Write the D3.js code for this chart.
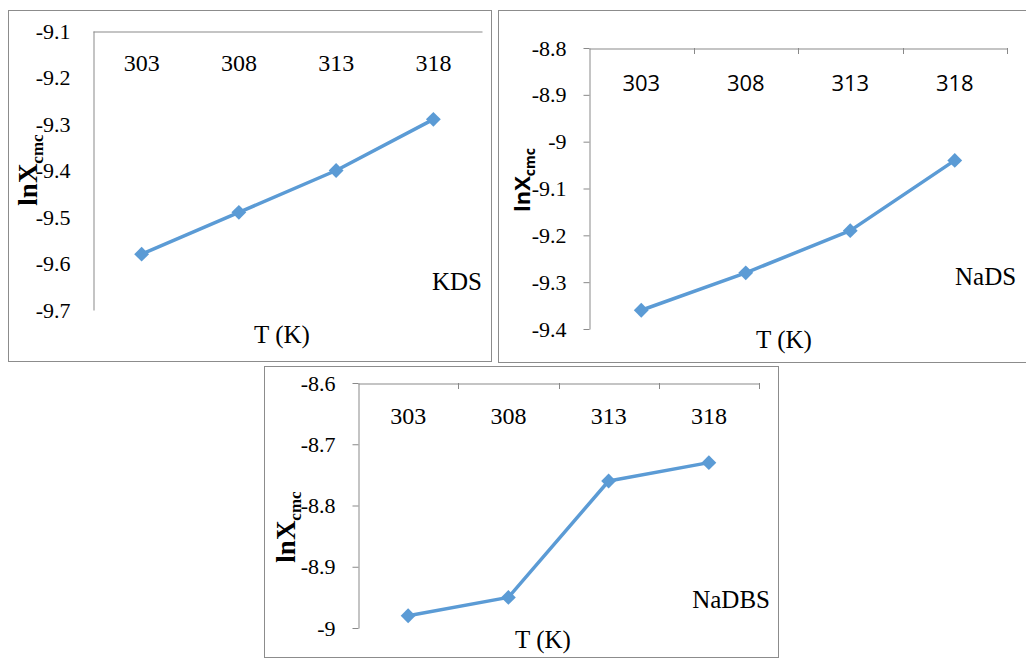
<!DOCTYPE html>
<html>
<head>
<meta charset="utf-8">
<script src="https://cdn.jsdelivr.net/npm/d3@7"></script>
</head>
<body style="margin:0;background:#fff">
<svg id="fig" width="1026" height="661" style="display:block"></svg>
<script>
// ---- data ----
const categories = ["303", "308", "313", "318"];
const kdsValues = [-9.58, -9.49, -9.40, -9.29];
const nadsValues = [-9.36, -9.28, -9.19, -9.04];
const nadbsValues = [-8.98, -8.95, -8.76, -8.73];
const kdsTicks = [-9.1, -9.2, -9.3, -9.4, -9.5, -9.6, -9.7];
const nadsTicks = [-8.8, -8.9, -9.0, -9.1, -9.2, -9.3, -9.4];
const nadbsTicks = [-8.6, -8.7, -8.8, -8.9, -9.0];
const xTitle = "T (K)";

const svg = d3.select("#fig");
svg.append("rect").attr("width", 1026).attr("height", 661).attr("fill", "#fff");

const SERIF = "Liberation Serif";
const SANS = "Open Sans";
const LINE = "#5B9BD5";
const AXIS = "#898989";

function setFont(sel, fam, size, weight) {
  sel.attr("font-family", fam).attr("font-size", size)
    .style("font-family", `"${fam}"`, "important")
    .style("font-size", size + "px", "important");
  if (weight) sel.attr("font-weight", weight).style("font-weight", weight, "important");
  return sel;
}

function panel(o) {
  const g = svg.append("g");
  g.append("rect")
    .attr("x", o.box[0] + 0.5).attr("y", o.box[1] + 0.5)
    .attr("width", o.box[2] - o.box[0]).attr("height", o.box[3] - o.box[1])
    .attr("fill", "none").attr("stroke", "#8c8c8c").attr("stroke-width", 1);

  const x = d3.scaleBand().domain(categories).range([o.left, o.right]).padding(0);
  const y = d3.scaleLinear().domain([d3.min(o.ticks), d3.max(o.ticks)]).range([o.bottom, o.top]);

  // y axis
  const yAxis = d3.axisLeft(y).tickValues(o.ticks)
    .tickSizeInner(o.tickLen).tickSizeOuter(0).tickPadding(o.yPad)
    .tickFormat(d => String(+d.toFixed(1)));
  const ga = g.append("g").attr("transform", `translate(${o.left + 0.5},0)`).call(yAxis);
  setFont(ga, SERIF, o.yFont);
  ga.select(".domain").attr("stroke", AXIS);
  ga.selectAll(".tick line").attr("stroke", AXIS);
  setFont(ga.selectAll(".tick text"), SERIF, o.yFont).attr("fill", "#000");

  // top x axis
  const xAxis = d3.axisTop(x).tickSize(0).tickSizeOuter(0).tickPadding(0);
  const gx = g.append("g").attr("transform", `translate(0,${o.top + 0.5})`).call(xAxis);
  setFont(gx, o.catFamily, o.catFont);
  gx.select(".domain").attr("stroke", AXIS);
  setFont(gx.selectAll(".tick text"), o.catFamily, o.catFont)
    .attr("fill", "#000").attr("dy", null).attr("y", o.catBaseline - o.top);
  if (o.tickLen > 0) {
    const bounds = categories.map(c => x(c) + x.bandwidth());
    g.selectAll(".xt").data(bounds).enter().append("line")
      .attr("x1", d => Math.round(d) + 0.5).attr("x2", d => Math.round(d) + 0.5)
      .attr("y1", o.top).attr("y2", o.top + o.tickLen)
      .attr("stroke", AXIS);
  }

  // line and markers
  const pts = categories.map((c, i) => [x(c) + x.bandwidth() / 2, y(o.values[i])]);
  g.append("path").attr("d", d3.line()(pts))
    .attr("fill", "none").attr("stroke", LINE).attr("stroke-width", 3.5).attr("stroke-linejoin", "round");
  const sym = d3.symbol(d3.symbolSquare, 110);
  g.selectAll(".m").data(pts).enter().append("path")
    .attr("d", sym)
    .attr("transform", d => `translate(${d[0]},${d[1]}) rotate(45)`)
    .attr("fill", LINE);

  // y title
  const yt = g.append("text")
    .attr("transform", `translate(${o.yTitle[0]},${o.yTitle[1]}) rotate(-90)`)
    .attr("text-anchor", "middle").attr("fill", "#000");
  setFont(yt, o.yTitleFamily, o.yTitleFont, "bold");
  yt.append("tspan").text("lnX");
  setFont(yt.append("tspan").attr("dy", o.subShift).text("cmc"), o.yTitleFamily, o.subFont, "bold");

  // x title
  setFont(g.append("text").attr("x", o.xTitle[0]).attr("y", o.xTitle[1])
    .attr("text-anchor", "middle").attr("fill", "#000").text(xTitle), SERIF, 25);

  // name
  setFont(g.append("text").attr("x", o.name[0]).attr("y", o.name[1])
    .attr("text-anchor", o.nameAnchor).attr("fill", "#000").text(o.label), SERIF, 25);
}

panel({
  box: [8, 10, 491, 361], left: 93, right: 482, top: 31, bottom: 310,
  ticks: kdsTicks, values: kdsValues, tickLen: 0, yPad: 23, yFont: 22,
  catFamily: SERIF, catFont: 24, catBaseline: 70,
  yTitle: [37, 170], yTitleFamily: SERIF, yTitleFont: 27, subFont: 17, subShift: 6,
  xTitle: [282, 343], name: [482, 290], nameAnchor: "end", label: "KDS"
});

panel({
  box: [498, 10, 1030, 362], left: 589, right: 1007, top: 48, bottom: 329,
  ticks: nadsTicks, values: nadsValues, tickLen: 6, yPad: 17, yFont: 22,
  catFamily: SANS, catFont: 22, catBaseline: 90,
  yTitle: [530, 180], yTitleFamily: SANS, yTitleFont: 22, subFont: 14, subShift: 5,
  xTitle: [784, 348], name: [955, 285], nameAnchor: "start", label: "NaDS"
});

panel({
  box: [264, 366, 778, 657], left: 358, right: 759, top: 383, bottom: 628,
  ticks: nadbsTicks, values: nadbsValues, tickLen: 6, yPad: 17, yFont: 22,
  catFamily: SERIF, catFont: 24, catBaseline: 423,
  yTitle: [295, 527], yTitleFamily: SERIF, yTitleFont: 27, subFont: 17, subShift: 6,
  xTitle: [543, 648], name: [770, 608], nameAnchor: "end", label: "NaDBS"
});
</script>
</body>
</html>
